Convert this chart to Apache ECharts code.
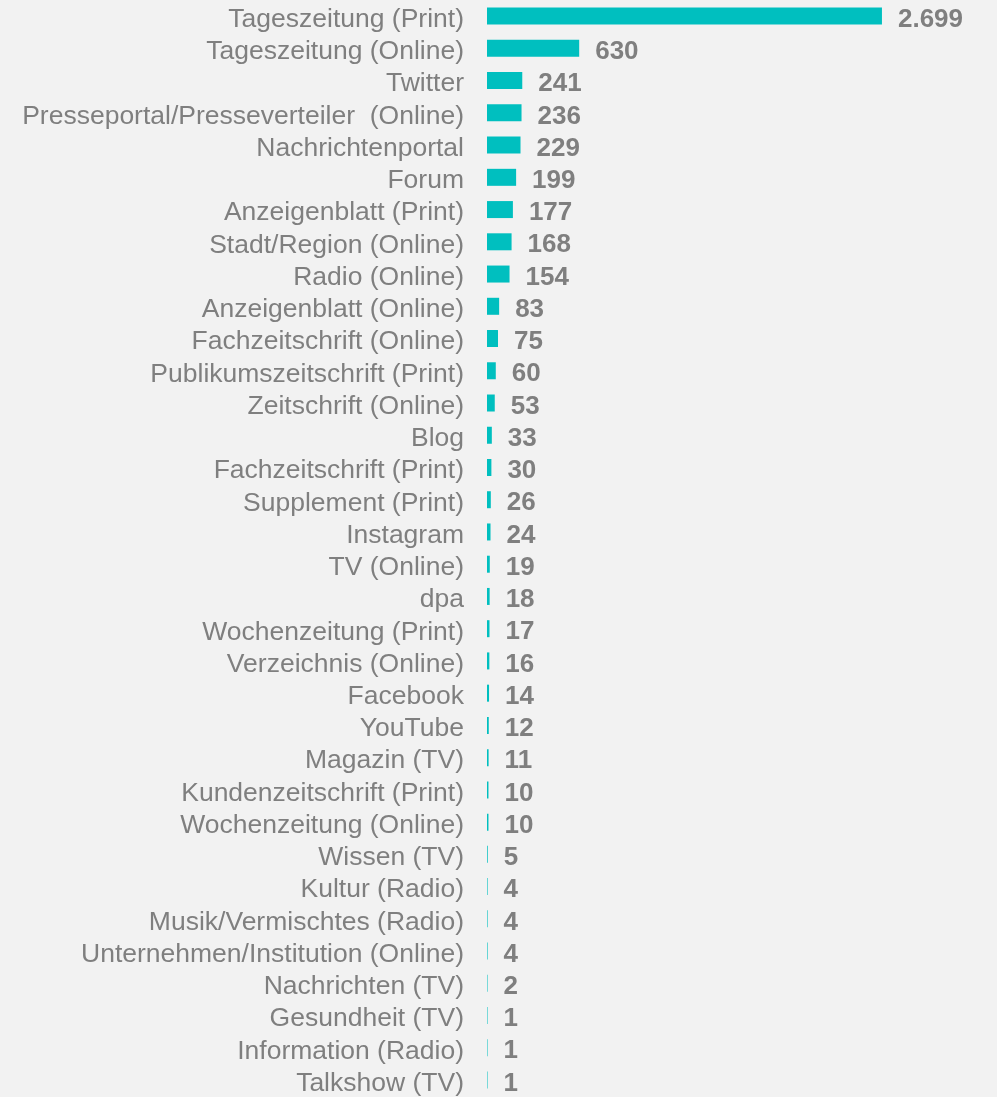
<!DOCTYPE html>
<html>
<head>
<meta charset="utf-8">
<script src="https://cdn.jsdelivr.net/npm/echarts@6/dist/echarts.min.js"></script>
<style>
    html, body { margin: 0; padding: 0; background: #f2f2f2; }
    #chart { width: 997px; height: 1097px; }
</style>
</head>
<body>
<div id="chart"></div>
<script>
// 媒体类别
var categories = [
    'Tageszeitung (Print)', 'Tageszeitung (Online)', 'Twitter', 'Presseportal/Presseverteiler  (Online)',
    'Nachrichtenportal', 'Forum', 'Anzeigenblatt (Print)', 'Stadt/Region (Online)', 'Radio (Online)',
    'Anzeigenblatt (Online)', 'Fachzeitschrift (Online)', 'Publikumszeitschrift (Print)', 'Zeitschrift (Online)',
    'Blog', 'Fachzeitschrift (Print)', 'Supplement (Print)', 'Instagram', 'TV (Online)', 'dpa',
    'Wochenzeitung (Print)', 'Verzeichnis (Online)', 'Facebook', 'YouTube', 'Magazin (TV)',
    'Kundenzeitschrift (Print)', 'Wochenzeitung (Online)', 'Wissen (TV)', 'Kultur (Radio)',
    'Musik/Vermischtes (Radio)', 'Unternehmen/Institution (Online)', 'Nachrichten (TV)',
    'Gesundheit (TV)', 'Information (Radio)', 'Talkshow (TV)'
];
// 数量
var counts = [
    2699, 630, 241, 236, 229, 199, 177, 168, 154, 83, 75, 60, 53, 33, 30, 26, 24, 19, 18,
    17, 16, 14, 12, 11, 10, 10, 5, 4, 4, 4, 2, 1, 1, 1
];

// 千位分隔符 (德语格式)
function fmt(v) {
    return String(v).replace(/\B(?=(\d{3})+(?!\d))/g, '.');
}

(function () {
    let myEchart = echarts.init(document.getElementById('chart'));
    let option = {
        backgroundColor: '#f2f2f2',
        animation: false,
        grid: {
            top: 0,
            left: 487,
            width: 439,
            height: 1100
        },
        xAxis: {
            type: 'value',
            min: 0,
            max: 3000,
            show: false
        },
        yAxis: {
            type: 'category',
            inverse: true,
            data: categories,
            axisLine: { show: false },
            axisTick: { show: false },
            axisLabel: {
                interval: 0, // 显示全部类别
                color: '#7f7f7f',
                fontFamily: 'Liberation Sans',
                fontSize: 26.5,
                margin: 23,
                // 文字稍微下移，与柱子居中
                verticalAlign: 'top',
                lineHeight: 7
            }
        },
        series: [
            {
                type: 'bar',
                data: counts,
                barWidth: 17,
                barMinHeight: 0.5,
                itemStyle: {
                    color: '#00bfbf'
                },
                label: {
                    show: true,
                    position: 'right',
                    distance: 16,
                    color: '#7f7f7f',
                    fontFamily: 'Liberation Sans',
                    fontWeight: 'bold',
                    fontSize: 26,
                    verticalAlign: 'top',
                    lineHeight: 7,
                    formatter: function (p) {
                        return fmt(p.value);
                    }
                }
            }
        ]
    };
    myEchart.setOption(option);
})();
</script>
</body>
</html>
